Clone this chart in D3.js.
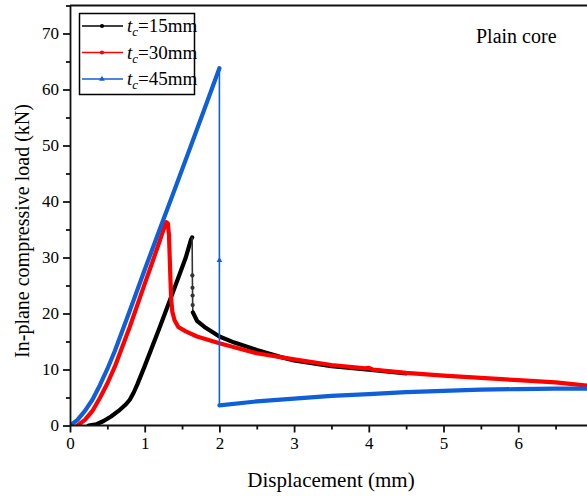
<!DOCTYPE html>
<html>
<head>
<meta charset="utf-8">
<script src="https://cdn.jsdelivr.net/npm/d3@7"></script>
<style>
  body { margin: 0; background: #fff; }
  svg { display: block; }
  svg text { font-family: "Liberation Serif", "Times New Roman", serif; }
</style>
</head>
<body>
<div id="canvas"></div>
<script>
// t_c = 15 mm
const blackRiseX = [0.25, 0.35, 0.45, 0.55, 0.65, 0.75, 0.8, 0.85, 0.9, 1.0, 1.2, 1.4, 1.55, 1.62, 1.635];
const blackRiseY = [0, 0.2, 0.8, 1.6, 2.6, 3.8, 4.6, 5.8, 7.3, 10.6, 17.5, 24.6, 30.0, 33.2, 33.6];
const blackDropX = [1.635, 1.638, 1.64, 1.641, 1.642, 1.645];
const blackDropY = [33.6, 26.8, 24.6, 23.2, 21.5, 20.2];
const blackTailX = [1.645, 1.7, 1.8, 2.0, 2.2, 2.5, 2.8, 3.0, 3.5, 4.0, 4.5];
const blackTailY = [20.2, 18.7, 17.6, 15.9, 14.8, 13.5, 12.3, 11.6, 10.6, 9.95, 9.3];

// t_c = 30 mm
const redX = [0.1, 0.2, 0.3, 0.4, 0.5, 0.6, 0.8, 1.0, 1.08, 1.2, 1.26, 1.29, 1.31, 1.325, 1.335, 1.345, 1.355,
              1.37, 1.4, 1.45, 1.55, 1.7, 1.9, 2.0, 2.5, 3.0, 3.5, 3.95, 4.0, 4.05, 4.5, 5.0, 5.5, 6.0, 6.5, 6.95];
const redY = [0, 1.0, 2.6, 4.9, 7.5, 10.5, 17.6, 25.3, 28.3, 32.9, 35.3, 36.3, 36.1, 34.0, 30.0, 26.0, 22.5,
              20.3, 18.8, 17.6, 16.8, 15.9, 15.1, 14.7, 12.9, 11.8, 10.8, 10.2, 10.3, 10.0, 9.4, 8.9, 8.5, 8.1, 7.7, 7.1];

// t_c = 45 mm
const blueRiseX = [0, 0.1, 0.2, 0.3, 0.4, 0.5, 0.6, 0.8, 1.0, 1.2, 1.4, 1.6, 1.8, 2.0];
const blueRiseY = [0, 1.0, 2.6, 4.6, 7.2, 10.1, 13.3, 20.5, 27.8, 35.0, 42.1, 49.3, 56.5, 63.8];
const blueDropX = [2.0, 2.0, 2.0];
const blueDropY = [63.8, 29.5, 3.6];
const blueTailX = [2.0, 2.5, 3.0, 3.5, 4.0, 4.5, 5.0, 5.5, 6.0, 6.5, 6.95];
const blueTailY = [3.6, 4.3, 4.8, 5.3, 5.6, 5.95, 6.2, 6.4, 6.5, 6.6, 6.6];

const xTicks = [0, 1, 2, 3, 4, 5, 6];
const yTicks = [0, 10, 20, 30, 40, 50, 60, 70];
const legendLabels = ["15mm", "30mm", "45mm"];
const colors = ["#000000", "#ff0000", "#0f5fd8"];

const width = 587;
const height = 496;

const svg = d3.select("#canvas").append("svg")
    .attr("width", width)
    .attr("height", height);

const x = d3.scaleLinear().domain([0, 7]).range([70, 70 + 7 * 74.7]);
const y = d3.scaleLinear().domain([0, 75]).range([425.5, 5.5]);

const zip = (xs, ys) => xs.map((v, i) => [v, ys[i]]);
const line = d3.line().x(d => x(d[0])).y(d => y(d[1]));

svg.append("clipPath").attr("id", "plot")
    .append("rect")
    .attr("x", x(0)).attr("y", y(75))
    .attr("width", x(7) - x(0)).attr("height", y(0) - y(75));

const g = svg.append("g").attr("clip-path", "url(#plot)");

function thick(data, color) {
    g.append("path")
        .datum(data)
        .attr("d", line)
        .attr("fill", "none")
        .attr("stroke", color)
        .attr("stroke-width", 4.2)
        .attr("stroke-linejoin", "round")
        .attr("stroke-linecap", "round");
}

function thin(data, color, marker) {
    g.append("path")
        .datum(data)
        .attr("d", line)
        .attr("fill", "none")
        .attr("stroke", color)
        .attr("stroke-width", 1.6);
    g.selectAll(null).data(data.slice(1, -1)).enter()
        .append("path")
        .attr("transform", d => `translate(${x(d[0])},${y(d[1])})`)
        .attr("d", d3.symbol().type(marker).size(14))
        .attr("fill", color);
}

thick(zip(blackRiseX, blackRiseY), colors[0]);
thin(zip(blackDropX, blackDropY), "#333", d3.symbolCircle);
thick(zip(blackTailX, blackTailY), colors[0]);

thick(zip(redX, redY), colors[1]);

thick(zip(blueRiseX, blueRiseY), colors[2]);
thin(zip(blueDropX, blueDropY), colors[2], d3.symbolTriangle);
thick(zip(blueTailX, blueTailY), colors[2]);

// axes
svg.append("g")
    .attr("transform", `translate(0,${y(0)})`)
    .call(d3.axisBottom(x).tickValues(xTicks).tickFormat(d3.format("d")).tickSize(7).tickSizeOuter(0).tickPadding(4))
    .call(a => a.select(".domain").attr("d", `M${x(0)},0H${x(7)}`));

svg.append("g")
    .attr("transform", `translate(0,${y(0)})`)
    .call(d3.axisBottom(x).tickValues(xTicks.map(d => d + 0.5)).tickFormat("").tickSize(4).tickSizeOuter(0))
    .call(a => a.select(".domain").remove());

svg.append("g")
    .attr("transform", `translate(${x(0)},0)`)
    .call(d3.axisLeft(y).tickValues(yTicks).tickSize(7).tickSizeOuter(0).tickPadding(4));

svg.append("g")
    .attr("transform", `translate(${x(0)},0)`)
    .call(d3.axisLeft(y).tickValues(yTicks.map(d => d + 5)).tickFormat("").tickSize(4).tickSizeOuter(0))
    .call(a => a.select(".domain").remove());

svg.selectAll("g").attr("font-family", null);
svg.selectAll(".domain, .tick line").attr("stroke", "#111").attr("stroke-width", 1.8);
svg.selectAll(".tick text")
    .attr("font-size", 17)
    .attr("fill", "#000");

// frame top / right
svg.append("line")
    .attr("x1", x(0)).attr("x2", x(7))
    .attr("y1", y(75)).attr("y2", y(75))
    .attr("stroke", "#111").attr("stroke-width", 1.8);
svg.append("line")
    .attr("x1", x(7)).attr("x2", x(7))
    .attr("y1", y(75)).attr("y2", y(0))
    .attr("stroke", "#111").attr("stroke-width", 1.8);

// axis titles
svg.append("text")
    .attr("x", 331).attr("y", 487)
    .attr("text-anchor", "middle")
    .attr("font-size", 21)
    .text("Displacement (mm)");

svg.append("text")
    .attr("transform", "translate(29,231) rotate(-90)")
    .attr("text-anchor", "middle")
    .attr("font-size", 20)
    .text("In-plane compressive load (kN)");

svg.append("text")
    .attr("x", 476).attr("y", 43)
    .attr("font-size", 20)
    .text("Plain core");

// legend
const legend = svg.append("g");
legend.append("rect")
    .attr("x", 79.5).attr("y", 13.5)
    .attr("width", 115).attr("height", 81)
    .attr("fill", "#fff")
    .attr("stroke", "#000")
    .attr("stroke-width", 1.5);

const markers = [d3.symbolCircle, d3.symbolCircle, d3.symbolTriangle];
legendLabels.forEach((lab, i) => {
    const ly = 26 + i * 26.5;
    legend.append("line")
        .attr("x1", 82).attr("x2", 123)
        .attr("y1", ly).attr("y2", ly)
        .attr("stroke", colors[i])
        .attr("stroke-width", 1.5);
    legend.append("path")
        .attr("transform", `translate(102,${ly})`)
        .attr("d", d3.symbol().type(markers[i]).size(14))
        .attr("fill", colors[i]);
    const t = legend.append("text")
        .attr("x", 127).attr("y", ly + 6)
        .attr("font-size", 19);
    t.append("tspan").attr("font-style", "italic").text("t");
    t.append("tspan").attr("font-style", "italic").attr("font-size", 13).attr("dy", 4).text("c");
    t.append("tspan").attr("dy", -4).text("=" + lab);
});
</script>
</body>
</html>
